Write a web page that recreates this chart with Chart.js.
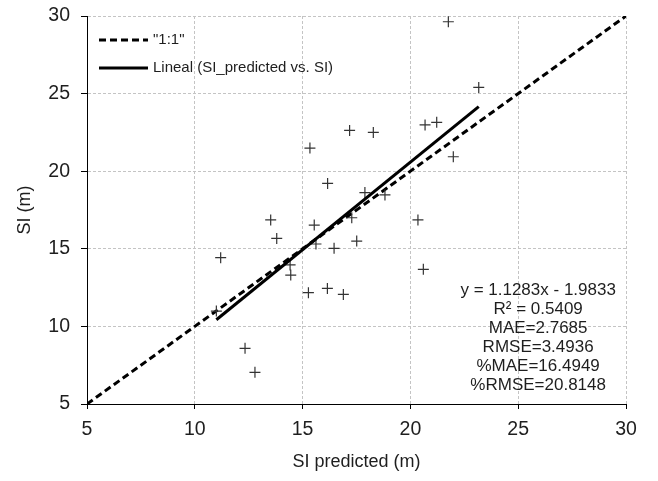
<!DOCTYPE html>
<html><head><meta charset="utf-8">
<script src="https://cdn.jsdelivr.net/npm/chart.js@4.4.0/dist/chart.umd.min.js"></script>
<style>html,body{margin:0;padding:0;background:#fff;}#wrap{width:658px;height:481px;position:relative;}</style>
</head><body><div id="wrap"><canvas id="c" width="658" height="481"></canvas></div>
<script>
// ---- data ----
const siPredicted = [21.76,23.17,20.68,21.22,21.99,17.18,18.28,15.34,16.16,17.89,18.82,20.35,13.52,13.80,15.54,17.28,15.62,16.46,17.51,20.60,11.20,14.42,14.45,15.27,16.15,16.89,11.00,12.33,12.79];
const siObserved  = [29.63,25.40,22.98,23.15,20.93,22.63,22.50,21.49,19.21,18.62,18.47,16.86,16.86,15.67,16.53,17.00,15.31,15.03,15.50,13.68,14.43,13.96,13.31,12.17,12.45,12.06,10.99,8.59,7.04];
const xTicks = [5,10,15,20,25,30];
const yTicks = [5,10,15,20,25,30];
const oneToOneRange = [5,30];
const fitSlope = 1.1283;
const fitIntercept = -1.9833;
const legendLabels = ['"1:1"', 'Lineal (SI_predicted vs. SI)'];
const statsLines = ['y = 1.1283x - 1.9833','R² = 0.5409','MAE=2.7685','RMSE=3.4936','%MAE=16.4949','%RMSE=20.8148'];
const xTitle = 'SI predicted (m)';
const yTitle = 'SI (m)';

// ---- derived ----
const points = siPredicted.map((x,i)=>({x:x,y:siObserved[i]}));
const xMin = Math.min(...siPredicted), xMax = Math.max(...siPredicted);
const fitLine = [xMin,xMax].map(x=>({x:x,y:fitSlope*x+fitIntercept}));
const oneLine = oneToOneRange.map(v=>({x:v,y:v}));

const FONT = "'Liberation Sans', Arial, sans-serif";
const TXT = '#1e1e1e';
const DASH = [7,4];

const overlay = {
  id:'overlay',
  afterDatasetsDraw(chart){
    const {ctx, chartArea:a} = chart;
    ctx.save();
    // legend
    const lx1 = a.left+12, lx2 = a.left+61;
    const rows = [a.top+24, a.top+52];
    ctx.strokeStyle = '#000'; ctx.lineWidth = 3;
    rows.forEach((y,i)=>{
      ctx.setLineDash(i===0?DASH:[]);
      ctx.beginPath(); ctx.moveTo(lx1,y); ctx.lineTo(lx2,y); ctx.stroke();
    });
    ctx.setLineDash([]);
    ctx.fillStyle = TXT; ctx.font = '15px '+FONT; ctx.textAlign='left'; ctx.textBaseline='middle';
    rows.forEach((y,i)=>ctx.fillText(legendLabels[i], lx2+5, y));
    // stats
    ctx.font = '17px '+FONT; ctx.textAlign='center';
    const cx = a.left + (a.right-a.left)*0.837;
    statsLines.forEach((t,i)=>ctx.fillText(t, cx, a.top+274+i*19));
    ctx.restore();
  }
};

new Chart(document.getElementById('c'), {
  type:'scatter',
  data:{datasets:[
    {label:'SI', data:points, showLine:false, pointStyle:'cross', pointRadius:5.5, pointHoverRadius:5.5, borderColor:'#333', borderWidth:1.2, backgroundColor:'#333', order:1},
    {label:legendLabels[0], data:oneLine, showLine:true, pointRadius:0, borderColor:'#000', borderWidth:3, borderDash:DASH, order:2},
    {label:legendLabels[1], data:fitLine, showLine:true, pointRadius:0, borderColor:'#000', borderWidth:3, order:0}
  ]},
  options:{
    responsive:false, animation:false, devicePixelRatio:1,
    layout:{padding:{left:0,right:32,top:16,bottom:0}},
    plugins:{legend:{display:false}, tooltip:{enabled:false}},
    scales:{
      x:{type:'linear', min:5, max:30,
        afterBuildTicks:s=>{s.ticks = xTicks.map(v=>({value:v}));},
        afterFit:s=>{s.height = 77; s.paddingLeft = 0; s.paddingRight = 0;},
        ticks:{color:TXT, font:{family:FONT,size:19.5}, padding:9},
        grid:{color:'#c4c4c4', lineWidth:1, tickColor:'#000', tickLength:5, tickBorderDash:[]},
        border:{display:true, color:'#000', width:1, dash:[3,2]},
        title:{display:true, text:xTitle, color:TXT, font:{family:FONT,size:18}, padding:{top:0,bottom:8}}
      },
      y:{type:'linear', min:5, max:30,
        afterBuildTicks:s=>{s.ticks = yTicks.map(v=>({value:v}));},
        afterFit:s=>{s.width = 87; s.paddingTop = 0; s.paddingBottom = 0;},
        ticks:{color:TXT, font:{family:FONT,size:19.5}, padding:11},
        grid:{color:'#c4c4c4', lineWidth:1, tickColor:'#000', tickLength:6, tickBorderDash:[]},
        border:{display:true, color:'#000', width:1, dash:[3,2]},
        title:{display:true, text:yTitle, color:TXT, font:{family:FONT,size:18}, padding:{top:14,bottom:0}}
      }
    }
  },
  plugins:[overlay]
});
</script></body></html>
